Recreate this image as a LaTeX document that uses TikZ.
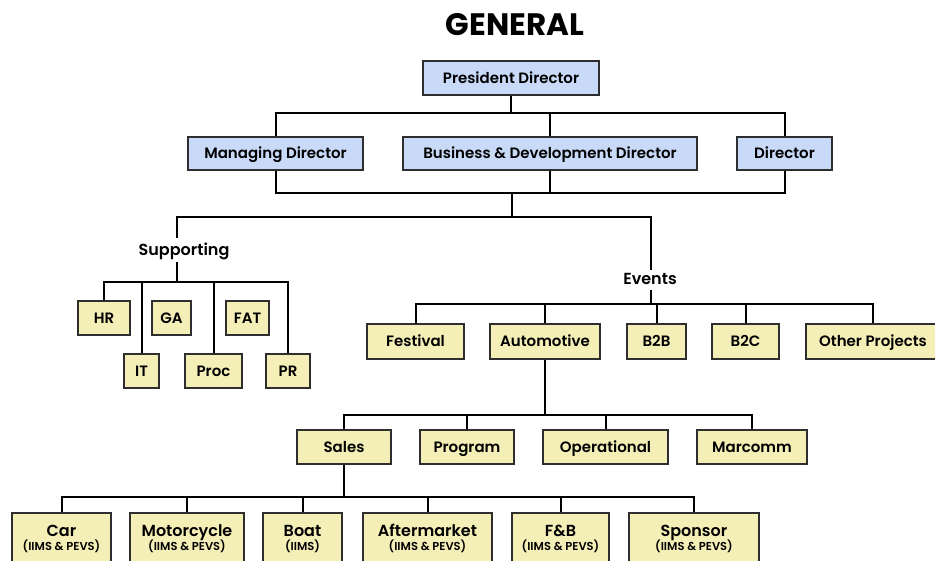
\documentclass[tikz,border=0pt]{standalone}
\usepackage{fontspec}
\setmainfont{Poppins}
\IfFontExistsTF{Poppins SemiBold}{\newfontfamily\boxfont{Poppins SemiBold}}{\newcommand\boxfont{\bfseries}}
\definecolor{bluefill}{HTML}{C9DAF8}
\definecolor{yelfill}{HTML}{F4EEB7}
\definecolor{bordc}{HTML}{2E2E2E}
\tikzset{
  box/.style={draw=bordc, line width=1.4pt, inner sep=0pt, text height=10.5pt, text depth=0pt,
    font=\boxfont\fontsize{15}{17}\selectfont},
  bbox/.style={box, fill=bluefill},
  ybox/.style={box, fill=yelfill},
  lowbox/.style={draw=bordc, line width=1.4pt, inner sep=0pt, fill=yelfill, minimum height=62pt},
  maintxt/.style={inner sep=0pt, anchor=base, font=\boxfont\fontsize{16}{18}\selectfont},
  subtxt/.style={inner sep=0pt, anchor=base, font=\boxfont\fontsize{11.5}{13}\selectfont},
  lbl/.style={inner sep=0pt, text height=11pt, text depth=0pt, font=\boxfont\fontsize{16}{18}\selectfont},
  conn/.style={line width=2pt, black},
}
\begin{document}
\begin{tikzpicture}[x=1pt,y=-1pt]
\useasboundingbox (0,0) rectangle (935,561);
\fill[white] (0,0) rectangle (935,561);
% title
\node[inner sep=0pt, anchor=base, font=\bfseries\fontsize{31}{34}\selectfont] (title) at (515,36) {GENERAL};
% top level
\node[bbox, minimum width=176pt, minimum height=34pt] (pd) at (511,78) {President Director};
\node[bbox, minimum width=175pt, minimum height=33pt] (md) at (275.5,153.5) {Managing Director};
\node[bbox, minimum width=294pt, minimum height=33pt] (bd) at (550,153.5) {Business \& Development Director};
\node[bbox, minimum width=95pt, minimum height=33pt] (dir) at (784.5,153.5) {Director};
\coordinate (j1) at (511,113);
\draw[conn] (pd.south) -- (j1);
\draw[conn] (md.north) |- (j1) -| (dir.north);
\draw[conn] (bd.north) -- (bd.north |- j1);
\coordinate (j2) at (512,193);
\coordinate (j3) at (512,217);
\draw[conn] (md.south) |- (j2) -| (dir.south);
\draw[conn] (bd.south) -- (bd.south |- j2);
\draw[conn] (j2) -- (j3);
% supporting / events
\node[lbl] (sup) at (184,250) {Supporting};
\node[lbl] (ev) at (650,279) {Events};
\coordinate (s1) at (177,217);
\coordinate (s2) at (177,238);
\coordinate (s3) at (177,262);
\coordinate (s4) at (177,282);
\coordinate (e1) at (651,217);
\coordinate (e2) at (651,270);
\coordinate (e3) at (651,290);
\coordinate (e4) at (651,304);
\draw[conn] (s2) -- (s1) -- (e1) -- (e2);
\draw[conn] (s3) -- (s4);
\draw[conn] (e3) -- (e4);
% supporting children
\node[ybox, minimum width=52pt, minimum height=34pt] (hr) at (104,318) {HR};
\node[ybox, minimum width=39pt, minimum height=34pt] (ga) at (171.5,318) {GA};
\node[ybox, minimum width=43pt, minimum height=34pt] (fat) at (247.5,318) {FAT};
\node[ybox, minimum width=35pt, minimum height=34pt] (it) at (141.5,371) {IT};
\node[ybox, minimum width=57pt, minimum height=34pt] (proc) at (213.5,371) {Proc};
\node[ybox, minimum width=44pt, minimum height=34pt] (pr) at (288,371) {PR};
\draw[conn] (hr.north) |- (s4) -| (pr.north);
\draw[conn] (it.north) -- (it.north |- s4);
\draw[conn] (proc.north) -- (proc.north |- s4);
% events children
\node[ybox, minimum width=97pt, minimum height=35pt] (fest) at (415.5,341.5) {Festival};
\node[ybox, minimum width=110pt, minimum height=35pt] (auto) at (545,341.5) {Automotive};
\node[ybox, minimum width=59pt, minimum height=35pt] (b2b) at (656.5,341.5) {B2B};
\node[ybox, minimum width=67pt, minimum height=35pt] (b2c) at (745.5,341.5) {B2C};
\node[ybox, minimum width=134pt, minimum height=35pt] (oth) at (873,341.5) {Other Projects};
\draw[conn] (fest.north) |- (e4) -| (oth.north);
\draw[conn] (auto.north) -- (auto.north |- e4);
\draw[conn] (b2b.north) -- (b2b.north |- e4);
\draw[conn] (b2c.north) -- (b2c.north |- e4);
% automotive children
\node[ybox, minimum width=94pt, minimum height=34pt] (sales) at (344,447) {Sales};
\node[ybox, minimum width=94pt, minimum height=34pt] (prog) at (467,447) {Program};
\node[ybox, minimum width=125pt, minimum height=34pt] (oper) at (605.5,447) {Operational};
\node[ybox, minimum width=110pt, minimum height=34pt] (marc) at (752,447) {Marcomm};
\coordinate (a1) at (545,415);
\draw[conn] (auto.south) -- (a1);
\draw[conn] (sales.north) |- (a1) -| (marc.north);
\draw[conn] (prog.north) -- (prog.north |- a1);
\draw[conn] (oper.north) -- (oper.north |- a1);
% sales children
\node[lowbox, minimum width=99pt] (car) at (61.5,544) {};
\node[lowbox, minimum width=114pt] (moto) at (187,544) {};
\node[lowbox, minimum width=79pt] (boat) at (302.5,544) {};
\node[lowbox, minimum width=129pt] (after) at (427.5,544) {};
\node[lowbox, minimum width=97pt] (fb) at (560.5,544) {};
\node[lowbox, minimum width=130pt] (spon) at (694,544) {};
\coordinate (sl1) at (344,497);
\draw[conn] (sales.south) -- (sl1);
\draw[conn] (car.north) |- (sl1) -| (spon.north);
\draw[conn] (moto.north) -- (moto.north |- sl1);
\draw[conn] (boat.north) -- (boat.north |- sl1);
\draw[conn] (after.north) -- (after.north |- sl1);
\draw[conn] (fb.north) -- (fb.north |- sl1);
\foreach \n/\a/\b in {car/Car/(IIMS \& PEVS), moto/Motorcycle/(IIMS \& PEVS), boat/Boat/(IIMS),
  after/Aftermarket/(IIMS \& PEVS), fb/F\&B/(IIMS \& PEVS), spon/Sponsor/(IIMS \& PEVS)} {
  \node[maintxt] (\n-t) at ([yshift=-24pt]\n.north) {\a};
  \node[subtxt] (\n-s) at ([yshift=-38pt]\n.north) {\b};
}
\end{tikzpicture}
\end{document}
